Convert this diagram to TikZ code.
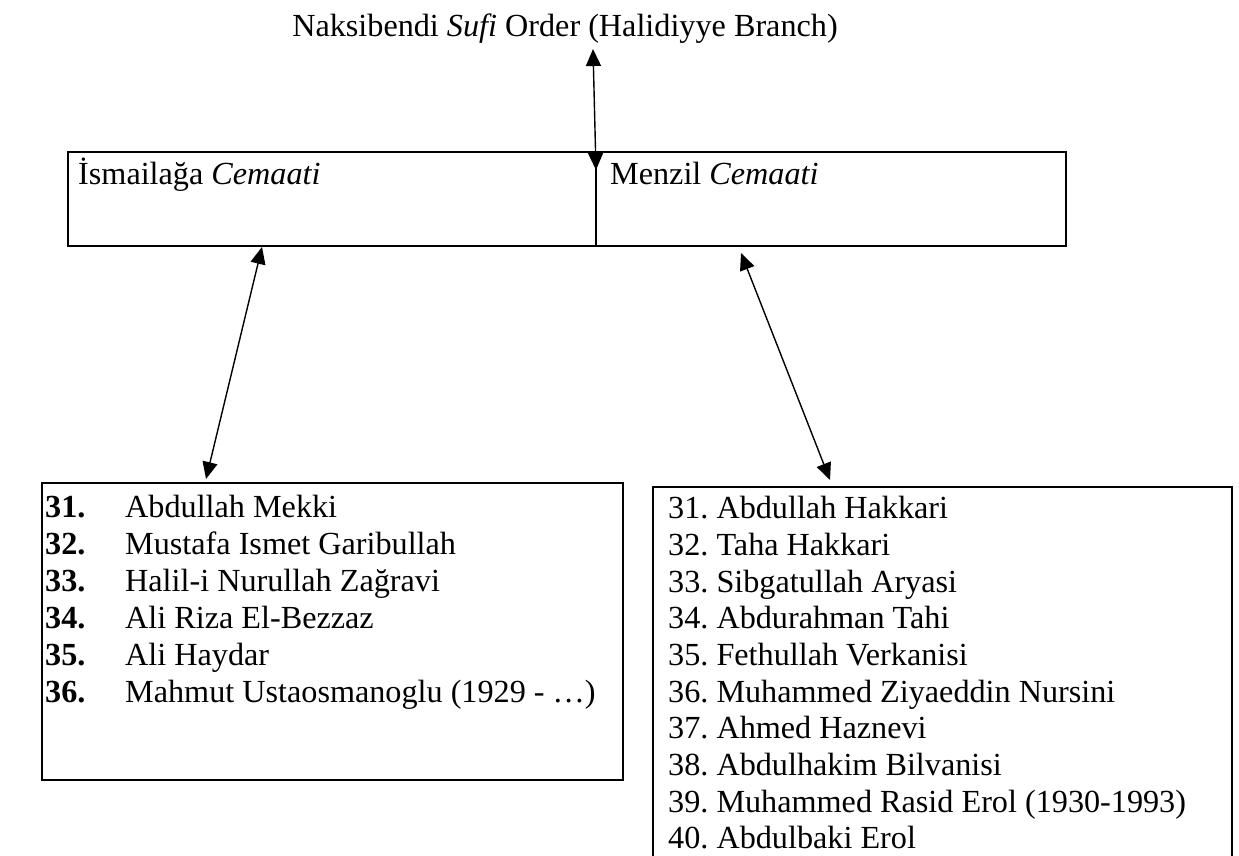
\documentclass[tikz,border=0pt]{standalone}
\usepackage{fontspec}
\setmainfont{Liberation Serif}
\usetikzlibrary{calc}
\usetikzlibrary{arrows.meta}
\frenchspacing
\newcommand{\diagfont}{\fontsize{32.2pt}{37pt}\selectfont}
\tikzset{
  box/.style = {draw=black, line width=2.3pt, inner sep=0pt, outer sep=0pt},
  link/.style = {color=#1, line width=1.4pt, {Triangle[length=17pt,width=15pt]}-{Triangle[length=17pt,width=15pt]}},
  entry/.style = {anchor=base west, inner sep=0pt, font=\diagfont}
}

\begin{document}
\begin{tikzpicture}[x=1pt, y=-1pt]
    \useasboundingbox (0,0) rectangle (1239,855);

    %==== Order ====
    \node[entry, anchor=base] (order) at (565,36) {Naksibendi \textit{Sufi} Order (Halidiyye Branch)};

    %==== Cemaat boxes ====
    % Body
    \node[box, anchor=north west, minimum width=528pt, minimum height=94pt] (isma) at (68,152) {};
    \node[box, anchor=north west, minimum width=470pt, minimum height=94pt] (menzil) at (isma.north east) {};

    % Labels
    \node[entry] (ismaName) at ($(isma.north west)+(10,32)$) {İsmailağa \textit{Cemaati}};
    \node[entry] (menzilName) at ($(menzil.north west)+(14,32)$) {Menzil \textit{Cemaati}};

    %==== Ismailaga list ====
    \node[box, anchor=north west, minimum width=581pt, minimum height=297pt] (ismaList) at (42,483) {};
    \node[entry] (i31) at (45,517) {\textbf{31.}};
    \node[entry] (i32) at (45,554) {\textbf{32.}};
    \node[entry] (i33) at (45,591) {\textbf{33.}};
    \node[entry] (i34) at (45,628) {\textbf{34.}};
    \node[entry] (i35) at (45,665) {\textbf{35.}};
    \node[entry] (i36) at (45,702) {\textbf{36.}};
    \node[entry] at (125,517) {Abdullah Mekki};
    \node[entry] at (125,554) {Mustafa Ismet Garibullah};
    \node[entry] at (125,591) {Halil-i Nurullah Zağravi};
    \node[entry] at (125,628) {Ali Riza El-Bezzaz};
    \node[entry] at (125,665) {Ali Haydar};
    \node[entry] at (125,702) {Mahmut Ustaosmanoglu (1929 - …)};

    %==== Menzil list ====
    \node[box, anchor=north west, minimum width=579pt, minimum height=380pt] (menzilList) at (653,487) {};
    \node[entry] (m31) at (668,518) {31. Abdullah Hakkari};
    \node[entry] (m32) at (668,555) {32. Taha Hakkari};
    \node[entry] (m33) at (668,592) {33. Sibgatullah Aryasi};
    \node[entry] (m34) at (668,628) {34. Abdurahman Tahi};
    \node[entry] (m35) at (668,665) {35. Fethullah Verkanisi};
    \node[entry] (m36) at (668,702) {36. Muhammed Ziyaeddin Nursini};
    \node[entry] (m37) at (668,738) {37. Ahmed Haznevi};
    \node[entry] (m38) at (668,775) {38. Abdulhakim Bilvanisi};
    \node[entry] (m39) at (668,812) {39. Muhammed Rasid Erol (1930-1993)};
    \node[entry] (m40) at (668,848) {40. Abdulbaki Erol};

    %==== Links ====
    % Coordinates
    \coordinate (orderTip) at (593,49);
    \coordinate (cemaatTip) at ($(isma.north east)+(0,18)$);
    \coordinate (ismaTip) at ($(isma.south west)+(194,1)$);
    \coordinate (ismaListTip) at ($(ismaList.north west)+(164,-4)$);
    \coordinate (menzilTip) at ($(menzil.south west)+(145,7)$);
    \coordinate (menzilListTip) at ($(menzilList.north west)+(177,-7)$);

    % Arrows
    \draw[link={black}] (orderTip) -- (cemaatTip);
    \draw[link={black}] (ismaTip) -- (ismaListTip);
    \draw[link={black}] (menzilTip) -- (menzilListTip);
\end{tikzpicture}
\end{document}
